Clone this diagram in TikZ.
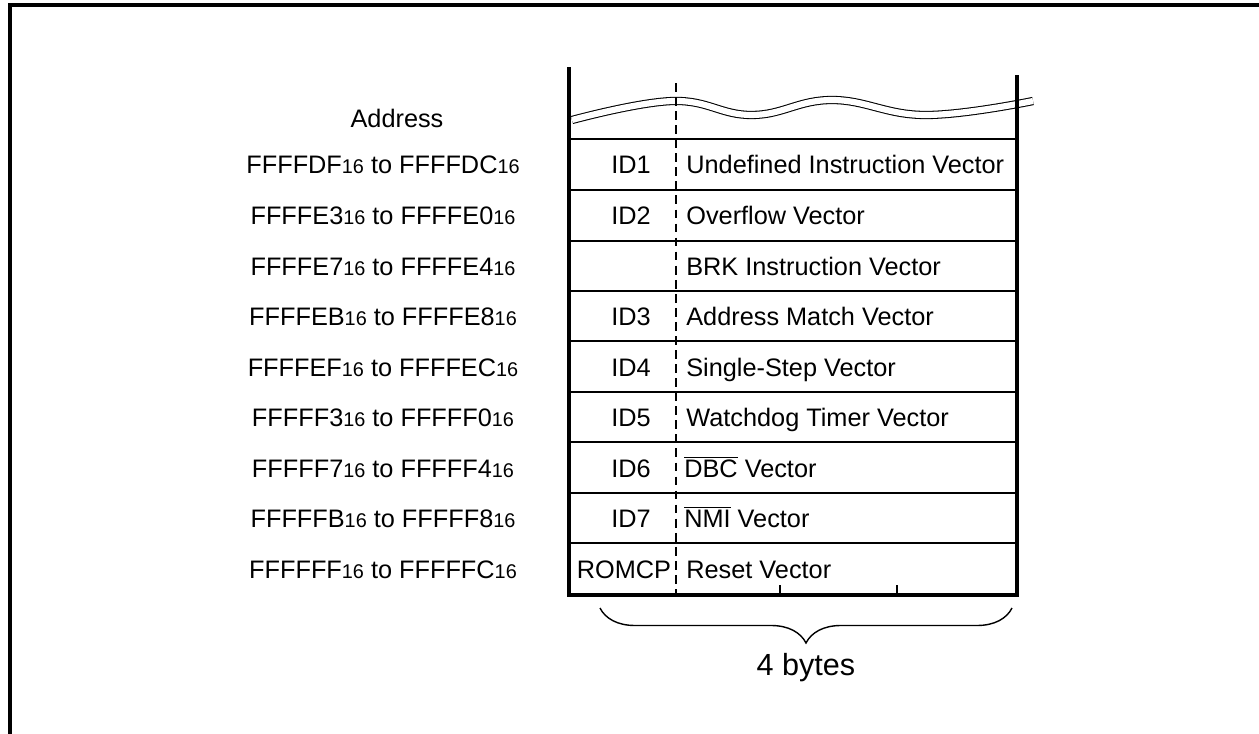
\documentclass[tikz,border=0pt]{standalone}
\usepackage{fontspec}
\setmainfont{Liberation Sans}
\usetikzlibrary{decorations.pathreplacing}

\newcommand{\hx}{{\fontsize{11.3}{11}\selectfont 16}}
\newcommand{\ovl}[1]{$\overline{\mbox{#1}}$}

\begin{document}
\begin{tikzpicture}[
  x=0.02cm, y=-0.02cm,
  every node/.style={font=\fontsize{14.4}{16}\selectfont, inner sep=0pt, text height=10.3pt, text depth=0pt},
  addr/.style={anchor=center},
  idtag/.style={anchor=center},
  vec/.style={anchor=west},
  wall/.style={line width=1.9pt},
  rowline/.style={line width=1.1pt}
]
\useasboundingbox (0,0) rectangle (1259,734);
% frame
\draw[line width=1.9pt] (10,734) -- (10,5) -- (1259,5);

% broken top of the table
\draw[double, double distance=3.5pt, line width=0.6pt] plot[smooth, tension=0.7] coordinates {(572,120) (673,101) (752,115) (832,100) (925,115) (1033,101)};

% walls and rows
\draw[wall] (569,67) -- (569,595) -- (1017,595) -- (1017,75);
\draw[dashed, line width=0.8pt, dash pattern=on 5pt off 3pt] (676,83) -- (676,595);
\draw[rowline] (569,139) -- (1017,139) (569,190) -- (1017,190)
  (569,241) -- (1017,241) (569,291) -- (1017,291)
  (569,341) -- (1017,341) (569,392) -- (1017,392)
  (569,442) -- (1017,442) (569,493) -- (1017,493)
  (569,543) -- (1017,543);
\draw[rowline] (780,595) -- (780,585) (897,595) -- (897,585);

\node (head) at (397,118) {Address};

\node[addr] (a1) at (383,164) {FFFFDF\hx{} to FFFFDC\hx};
\node[addr] (a2) at (383,215) {FFFFE3\hx{} to FFFFE0\hx};
\node[addr] (a3) at (383,266) {FFFFE7\hx{} to FFFFE4\hx};
\node[addr] (a4) at (383,316) {FFFFEB\hx{} to FFFFE8\hx};
\node[addr] (a5) at (383,367) {FFFFEF\hx{} to FFFFEC\hx};
\node[addr] (a6) at (383,417) {FFFFF3\hx{} to FFFFF0\hx};
\node[addr] (a7) at (383,468) {FFFFF7\hx{} to FFFFF4\hx};
\node[addr] (a8) at (383,518) {FFFFFB\hx{} to FFFFF8\hx};
\node[addr] (a9) at (383,569) {FFFFFF\hx{} to FFFFFC\hx};

\node[idtag] (id1) at (631,164) {ID1};
\node[idtag] (id2) at (631,215) {ID2};
\node[idtag] (id3) at (631,316) {ID3};
\node[idtag] (id4) at (631,367) {ID4};
\node[idtag] (id5) at (631,417) {ID5};
\node[idtag] (id6) at (631,468) {ID6};
\node[idtag] (id7) at (631,518) {ID7};
\node[idtag] (rom) at (624,569) {ROMCP};

\node[vec] (v1) at (686,164) {Undefined Instruction Vector};
\node[vec] (v2) at (686,215) {Overflow Vector};
\node[vec] (v3) at (686,266) {BRK Instruction Vector};
\node[vec] (v4) at (686,316) {Address Match Vector};
\node[vec] (v5) at (686,367) {Single-Step Vector};
\node[vec] (v6) at (686,417) {Watchdog Timer Vector};
\node[vec] (v7) at (684,468) {\ovl{DBC} Vector};
\node[vec] (v8) at (684,518) {\ovl{NMI} Vector};
\node[vec] (v9) at (686,569) {Reset Vector};

% width of one vector
\draw[decorate, decoration={brace, mirror, amplitude=0.7cm}, line width=0.8pt] (600,608) -- (1012,608);
\node[font=\fontsize{17.4}{20}\selectfont, text height=12.5pt] (bytes) at (806,665) {4 bytes};
\end{tikzpicture}
\end{document}
